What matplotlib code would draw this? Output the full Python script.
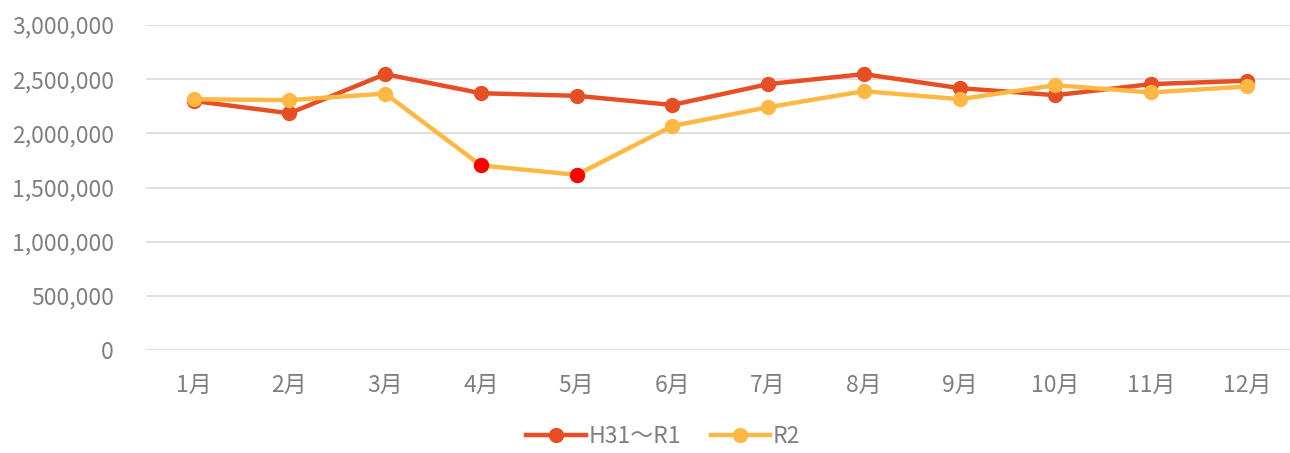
import matplotlib
matplotlib.use("Agg")
import matplotlib.pyplot as plt
from matplotlib.ticker import FuncFormatter

plt.rcParams['font.family'] = ['Noto Sans CJK JP', 'DejaVu Sans']

months = ["1月", "2月", "3月", "4月", "5月", "6月", "7月", "8月", "9月", "10月", "11月", "12月"]
h31_r1 = [2299000, 2185000, 2546000, 2370000, 2346000, 2262000,
          2454000, 2546000, 2417000, 2352000, 2454000, 2485000]
r2 = [2315000, 2306000, 2367000, 1704000, 1617000, 2068000,
      2241000, 2389000, 2315000, 2444000, 2377000, 2432000]
highlight = [3, 4]  # 4月, 5月 in red

c_red = "#E84E23"
c_yel = "#FFB843"
gray = "#7F7F7F"

fig = plt.figure(figsize=(12.9, 4.53), dpi=100)
ax = fig.add_axes([0.113, 0.227, 0.887, 0.718])

x = list(range(len(months)))
ax.plot(x, h31_r1, color=c_red, lw=3.2, marker="o", ms=10, label="H31～R1", zorder=3)
ax.plot(x, r2, color=c_yel, lw=3.2, marker="o", ms=10, label="R2", zorder=4)
ax.plot([x[i] for i in highlight], [r2[i] for i in highlight], ls="none",
        marker="o", ms=10, color="#FF0000", zorder=5)

ax.set_xlim(-0.5, 11.45)
ax.set_ylim(0, 3000000)
ax.set_yticks(range(0, 3000001, 500000))
ax.yaxis.set_major_formatter(FuncFormatter(lambda v, p: f"{int(v):,}"))
ax.set_xticks(x)
ax.set_xticklabels(months)
ax.grid(axis="y", color="#D9D9D9", lw=1.2)
ax.set_axisbelow(True)
for s in ax.spines.values():
    s.set_visible(False)
ax.tick_params(length=0, colors=gray, labelsize=16.5)
ax.tick_params(axis="x", pad=17)
ax.tick_params(axis="y", pad=23)

fig.legend(loc="lower center", bbox_to_anchor=(0.514, -0.035), ncol=2, frameon=False,
           fontsize=16.5, labelcolor=gray, handlelength=2.6, handletextpad=0.1,
           columnspacing=1.3)

fig.savefig("out.png", dpi=100)
